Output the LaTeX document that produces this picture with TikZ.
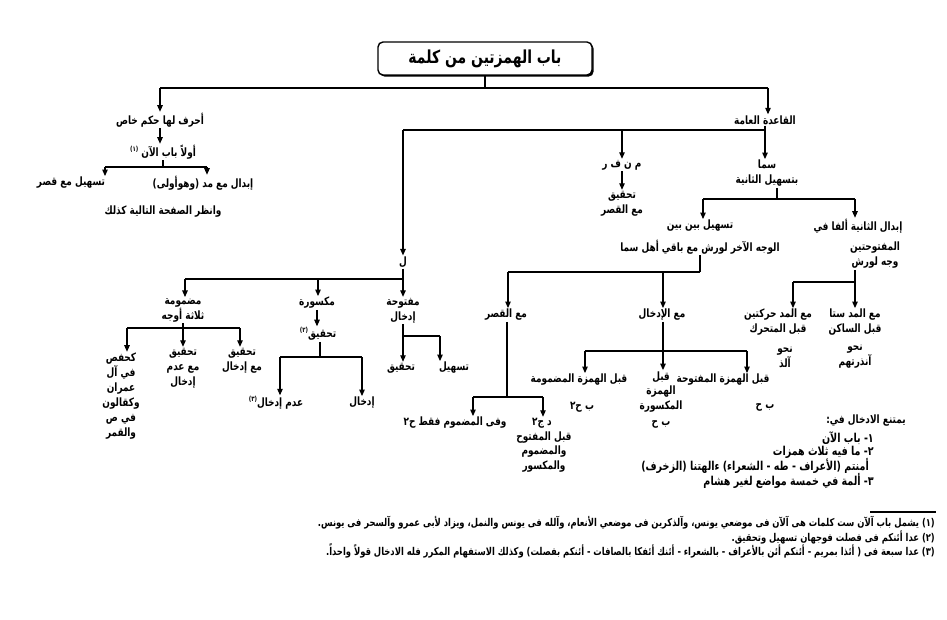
\documentclass[tikz,border=0pt]{standalone}
\usepackage{fontspec}
\usetikzlibrary{arrows.meta,shadows}
\TeXXeTstate=1
\newfontfamily\arabicfont[Script=Arabic, FakeStretch=0.78]{DejaVu Sans}
\newcommand{\ArT}[1]{\beginR #1\endR}
\newcommand{\fnm}[1]{\raisebox{0.8ex}{\fontsize{7}{7}\selectfont #1}}
\begin{document}
\begin{tikzpicture}[x=1bp,y=-1bp,
  txt/.style={font=\arabicfont\bfseries\fontsize{11.5}{15}\selectfont, inner sep=1pt, align=center},
  lst/.style={font=\arabicfont\bfseries\fontsize{12.3}{15}\selectfont, inner sep=1pt, anchor=east},
  fnt/.style={font=\arabicfont\bfseries\fontsize{10.8}{12}\selectfont, inner sep=1pt, anchor=east},
  ttl/.style={draw, rounded corners=5bp, line width=1.4bp, fill=white, minimum width=214bp, minimum height=33bp,
    font=\arabicfont\bfseries\fontsize{18}{20}\selectfont,
    drop shadow={shadow xshift=1.6bp, shadow yshift=-1.6bp, opacity=1, fill=black}},
  ln/.style={line width=1.1bp},
  arr/.style={line width=1.1bp, -{Triangle[length=6.5bp,width=5.5bp]}}]
\useasboundingbox (0,0) rectangle (947,620);
\fill[white] (0,0) rectangle (947,620);

% ---------- nodes ----------
\node[ttl] (title) at (485,58.5) {\ArT{باب الهمزتين من كلمة}};

\node[txt] (ahruf) at (160,120) {\ArT{أحرف لها حكم خاص}};
\node[txt] (awwalan) at (163,152) {\ArT{أولاً باب الآن \fnm{(١)}}};
\node[txt] (tashilq) at (71,183) {\ArT{تسهيل مع قصر}};
\node[txt] (ibdalm) at (203,183) {\ArT{إبدال مع مد (وهوأولى)}};
\node[txt] (unzur) at (163,212) {\ArT{وانظر الصفحة التالية كذلك}};

\node[txt] (qaida) at (765,120) {\ArT{القاعدة العامة}};
\node[txt] (mnfr) at (622,165) {\ArT{م ن ف ر}};
\node[txt] (tahqiqq) at (622,203.5) {\ArT{تحقيق}\\\ArT{مع القصر}};
\node[txt] (sama) at (767,173.5) {\ArT{سما}\\\ArT{بتسهيل الثانية}};
\node[txt] (tashilbb) at (700,226) {\ArT{تسهيل بين بين}};
\node[txt] (wajh) at (700,247) {\ArT{الوجه الآخر لورش مع باقي أهل سما}};
\node[txt] (ibdalth) at (858,226) {\ArT{إبدال الثانية ألفا في}};
\node[txt] (maftuhatayn) at (875,255.5) {\ArT{المفتوحتين}\\\ArT{وجه لورش}};

\node[txt] (madd2) at (778,322.5) {\ArT{مع المد حركتين}\\\ArT{قبل المتحرك}};
\node[txt] (nahw2) at (785,357) {\ArT{نحو}\\\ArT{آلذ}};
\node[txt] (madd6) at (855,322.5) {\ArT{مع المد ستا}\\\ArT{قبل الساكن}};
\node[txt] (nahw6) at (855,357) {\ArT{نحو}\\\ArT{آنذرتهم}};

\node[txt] (lam) at (403,262) {\ArT{ل}};
\node[txt] (madmuma) at (183,310) {\ArT{مضمومة}\\\ArT{ثلاثة أوجه}};
\node[txt] (maksura) at (317,303) {\ArT{مكسورة}};
\node[txt] (maftuha) at (403,310.5) {\ArT{مفتوحة}\\\ArT{إدخال}};
\node[txt] (tahqiq2) at (318,334) {\ArT{تحقيق\fnm{(٢)}}};
\node[txt] (adam) at (276,403) {\ArT{عدم إدخال\fnm{(٣)}}};
\node[txt] (idkhal2) at (362,403) {\ArT{إدخال}};
\node[txt] (tahqiqF) at (401,368) {\ArT{تحقيق}};
\node[txt] (tashilF) at (454,368) {\ArT{تسهيل}};
\node[txt] (hafs) at (121,396) {\ArT{كحفص}\\\ArT{في آل}\\\ArT{عمران}\\\ArT{وكقالون}\\\ArT{في ص}\\\ArT{والقمر}};
\node[txt] (tahqiqA) at (183,368) {\ArT{تحقيق}\\\ArT{مع عدم}\\\ArT{إدخال}};
\node[txt] (tahqiqB) at (242,360.5) {\ArT{تحقيق}\\\ArT{مع إدخال}};

\node[txt] (maaqasr) at (506,315) {\ArT{مع القصر}};
\node[txt] (maaidkhal) at (662,315) {\ArT{مع الإدخال}};
\node[txt] (wafi) at (455,423) {\ArT{وفى المضموم فقط ح٢}};
\node[txt] (dj) at (542,423) {\ArT{د ج٢}};
\node[txt] (qablmaf) at (544,452) {\ArT{قبل المفتوح}\\\ArT{والمضموم}\\\ArT{والمكسور}};
\node[txt] (qablmadm) at (579,380) {\ArT{قبل الهمزة المضمومة}};
\node[txt] (bh1) at (582,407) {\ArT{ب ح٢}};
\node[txt] (qablmaks) at (661,392) {\ArT{قبل}\\\ArT{الهمزة}\\\ArT{المكسورة}};
\node[txt] (bh2) at (661,424) {\ArT{ب ح}};
\node[txt] (qablmaft) at (723,380) {\ArT{قبل الهمزة المفتوحة}};
\node[txt] (bh3) at (765,407) {\ArT{ب ح}};

\node[txt] (yamtani) at (866,421) {\ArT{يمتنع الادخال في:}};
\node[lst] (l1) at (875,438) {\ArT{١- باب الآن}};
\node[lst] (l2) at (875,452) {\ArT{٢- ما فيه ثلاث همزات}};
\node[lst] (l3) at (870,466) {\ArT{أمنتم (الأعراف - طه - الشعراء) ءالهتنا (الزخرف)}};
\node[lst] (l4) at (875,481) {\ArT{٣- ألمة في خمسة مواضع لغير هشام}};

\node[fnt] (f1) at (936,523) {\ArT{(١) يشمل باب آلآن ست كلمات هى آلآن فى موضعي يونس، وآلذكرين فى موضعي الأنعام، وآلله فى يونس والنمل، ويزاد لأبى عمرو وآلسحر فى يونس.}};
\node[fnt] (f2) at (936,537) {\ArT{(٢) عدا أئنكم فى فصلت فوجهان تسهيل وتحقيق.}};
\node[fnt] (f3) at (936,551) {\ArT{(٣) عدا سبعة فى ( أئذا بمريم - أئنكم أئن بالأعراف - بالشعراء - أئنك أئفكا بالصافات - أئنكم بفصلت) وكذلك الاستفهام المكرر فله الادخال قولاً واحداً.}};
\coordinate (rule1) at (870,512);
\coordinate (rule2) at (936,512);
\draw[line width=1.3bp] (rule1) -- (rule2);

% ---------- connectors ----------
\coordinate (t0) at (485,88);
\coordinate (tL) at (160,88);
\coordinate (tR) at (768,88);
\draw[ln] (title.south) -- (t0);
\draw[ln] (tL) -- (tR);
\draw[arr] (tL) -- (tL |- ahruf.north);
\draw[arr] (tR) -- (tR |- qaida.north);

\draw[arr] (ahruf.south) -- (ahruf.south |- awwalan.north);
\coordinate (b1) at (163,167);
\coordinate (b1L) at (105,167);
\coordinate (b1R) at (207,167);
\draw[ln] (b1 |- awwalan.south) -- (b1);
\draw[ln] (b1L) -- (b1R);
\draw[arr] (b1L) -- (b1L |- tashilq.north);
\draw[arr] (b1R) -- (b1R |- ibdalm.north);

\coordinate (q) at (765,130);
\coordinate (qL) at (403,130);
\coordinate (qM) at (622,130);
\draw[ln] (qaida.south) -- (q);
\draw[ln] (qL) -- (q);
\draw[arr] (q) -- (q |- sama.north);
\draw[arr] (qM) -- (qM |- mnfr.north);
\draw[arr] (qL) -- (qL |- lam.north);
\draw[arr] (mnfr.south) -- (mnfr.south |- tahqiqq.north);

\coordinate (s) at (777,199);
\coordinate (sL) at (703,199);
\coordinate (sR) at (855,199);
\draw[ln] (s |- sama.south) -- (s);
\draw[ln] (sL) -- (sR);
\draw[arr] (sL) -- (sL |- tashilbb.north);
\draw[arr] (sR) -- (sR |- ibdalth.north);

\coordinate (w) at (700,272);
\coordinate (wL) at (508,272);
\coordinate (wM) at (663,272);
\draw[ln] (wajh.south) -- (w);
\draw[ln] (wL) -- (w);
\draw[arr] (wL) -- (wL |- maaqasr.north);
\draw[arr] (wM) -- (wM |- maaidkhal.north);

\coordinate (v) at (855,282);
\coordinate (vL) at (793,282);
\draw[ln] (v |- maftuhatayn.south) -- (v);
\draw[ln] (vL) -- (v);
\draw[arr] (vL) -- (vL |- madd2.north);
\draw[arr] (v) -- (v |- madd6.north);

\coordinate (l) at (403,279);
\coordinate (lL) at (185,279);
\coordinate (lM) at (318,279);
\draw[ln] (lam.south) -- (l);
\draw[ln] (lL) -- (l);
\draw[arr] (l) -- (l |- maftuha.north);
\draw[arr] (lM) -- (lM |- maksura.north);
\draw[arr] (lL) -- (lL |- madmuma.north);

\coordinate (m) at (183,328);
\coordinate (mL) at (127,328);
\coordinate (mR) at (240,328);
\draw[ln] (madmuma.south) -- (m);
\draw[ln] (mL) -- (mR);
\draw[arr] (mL) -- (mL |- hafs.north);
\draw[arr] (m) -- (m |- tahqiqA.north);
\draw[arr] (mR) -- (mR |- tahqiqB.north);

\draw[arr] (maksura.south) -- (maksura.south |- tahqiq2.north);
\coordinate (k) at (320,357);
\coordinate (kL) at (280,357);
\coordinate (kR) at (362,357);
\draw[ln] (k |- tahqiq2.south) -- (k);
\draw[ln] (kL) -- (kR);
\draw[arr] (kL) -- (kL |- adam.north);
\draw[arr] (kR) -- (kR |- idkhal2.north);

\coordinate (f) at (403,336);
\coordinate (fR) at (440,336);
\draw[arr] (maftuha.south) -- (maftuha.south |- tahqiqF.north);
\draw[ln] (f) -- (fR);
\draw[arr] (fR) -- (fR |- tashilF.north);

\coordinate (r) at (507,397);
\coordinate (rL) at (473,397);
\coordinate (rR) at (543,397);
\draw[ln] (r |- maaqasr.south) -- (r);
\draw[ln] (rL) -- (rR);
\draw[arr] (rL) -- (rL |- wafi.north);
\draw[arr] (rR) -- (rR |- dj.north);

\coordinate (d) at (663,351);
\coordinate (dL) at (585,351);
\coordinate (dR) at (747,351);
\draw[arr] (d |- maaidkhal.south) -- (d |- qablmaks.north);
\draw[ln] (dL) -- (dR);
\draw[arr] (dL) -- (dL |- qablmadm.north);
\draw[arr] (dR) -- (dR |- qablmaft.north);
\end{tikzpicture}
\end{document}
